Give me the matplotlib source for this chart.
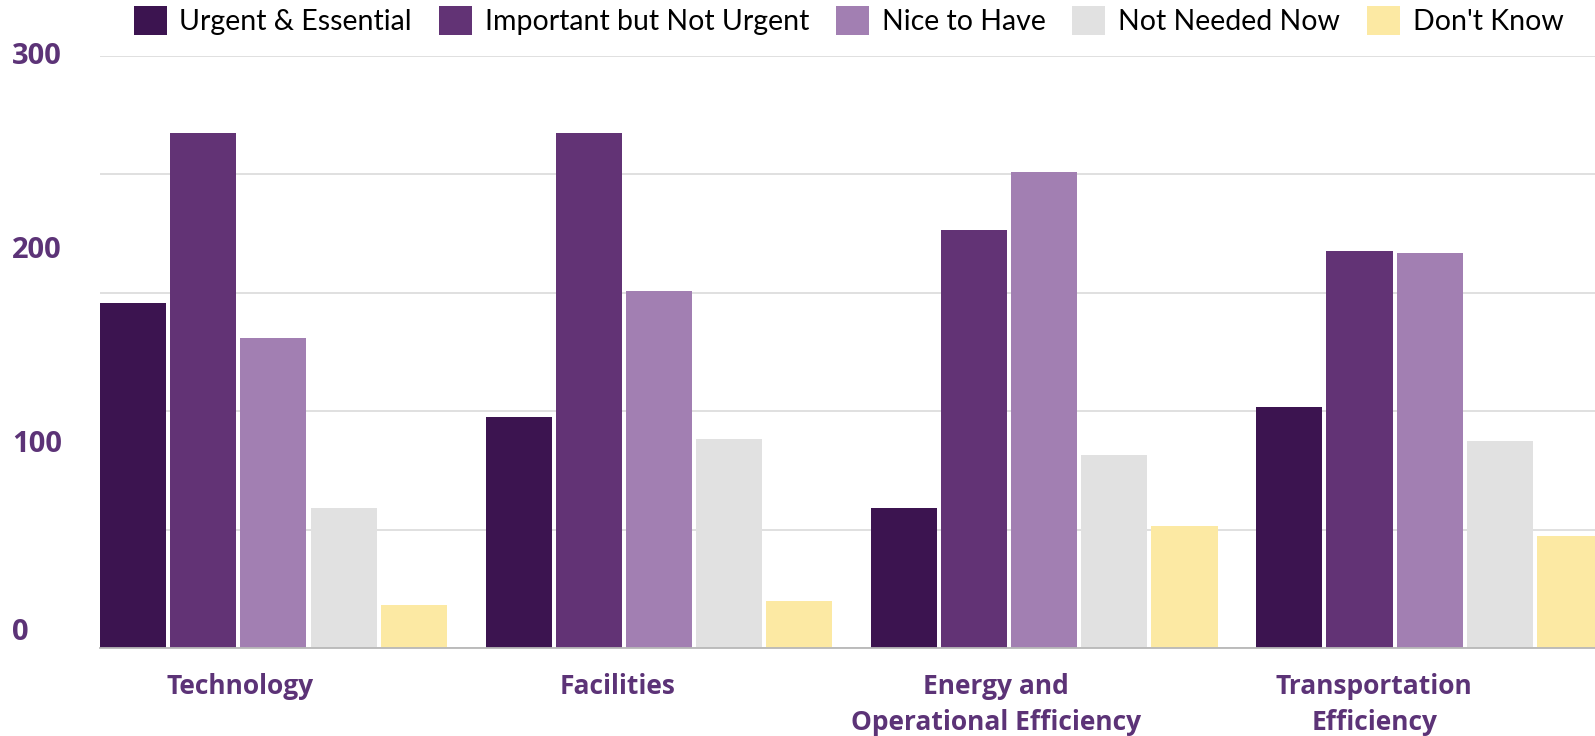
import numpy as np
import matplotlib.pyplot as plt
from matplotlib.patches import Patch

categories = ['Technology', 'Facilities', 'Energy and\nOperational Efficiency', 'Transportation\nEfficiency']
series = ['Urgent & Essential', 'Important but Not Urgent', 'Nice to Have', 'Not Needed Now', "Don't Know"]
urgent = [175, 117, 71, 122]
important = [261, 261, 212, 201]
nice = [157, 181, 241, 200]
not_needed = [71, 106, 98, 105]
dont_know = [22, 24, 62, 57]
ytick_labels = ['0', '100', '200', '300']

colors = ['#3C1450', '#623375', '#A27FB2', '#E1E1E1', '#FCE9A3']
text_color = '#5C3377'

values = [urgent, important, nice, not_needed, dont_know]

W, H = 1595, 736
fig = plt.figure(figsize=(W / 100, H / 100), dpi=100)
ax = fig.add_axes([100 / W, (H - 648) / H, 1 - 100 / W, (648 - 56) / H])

x = np.arange(len(categories))
step = 0.182
width = 0.1715
for j, (vals, c) in enumerate(zip(values, colors)):
    ax.bar(x + (j - 2) * step, vals, width, color=c, zorder=3)

ax.set_xlim(-0.45, 3.429)
ax.set_ylim(0, 300)

# gridlines every 60
ax.set_yticks(np.arange(0, 301, 60))
ax.yaxis.grid(True, color='#DADADA', linewidth=1.2, zorder=0)
ax.tick_params(axis='y', length=0, labelleft=False)
for s in ['top', 'right', 'left']:
    ax.spines[s].set_visible(False)
ax.spines['bottom'].set_color('#B8B8B8')
ax.spines['bottom'].set_linewidth(1.3)
ax.spines['bottom'].set_zorder(4)

# y labels (placed as in the original, spread from top gridline to just above baseline)
label_fy = [(H - 633) / H, (H - 445) / H, (H - 250) / H, (H - 56) / H]
for lab, fy in zip(ytick_labels, label_fy):
    fig.text(12 / W, fy, lab, ha='left', va='center', fontsize=21, fontweight='bold',
             color=text_color, family='Open Sans')

# category labels
label_x = -0.087 + x * 0.981
ax.set_xticks(label_x)
ax.set_xticklabels(categories, fontsize=19, fontweight='bold', color=text_color,
                   family='Open Sans', linespacing=1.45)
ax.tick_params(axis='x', length=0, pad=18)

handles = [Patch(facecolor=c, edgecolor='none') for c in colors]
fig.legend(handles, series, loc='upper center', bbox_to_anchor=(0.532, 1.026), ncol=5,
           frameon=False, handlelength=1.15, handleheight=1.15,
           handletextpad=0.45, columnspacing=0.95, prop={'family': 'Lato', 'size': 20.5})

fig.savefig('out.png', dpi=100)
